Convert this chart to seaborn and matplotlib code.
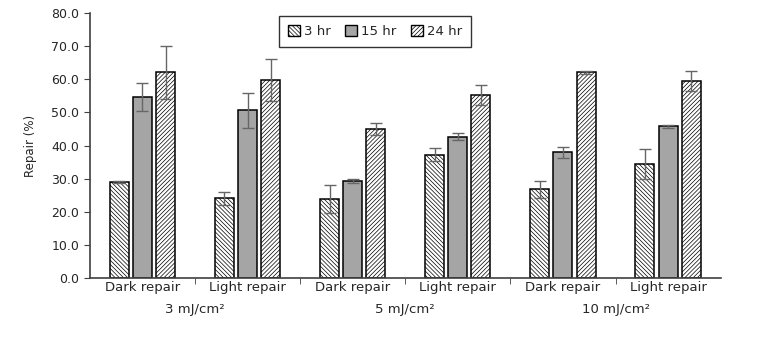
import numpy as np
import pandas as pd
import seaborn as sns
import matplotlib
matplotlib.use("Agg")
from matplotlib import pyplot as plt
from matplotlib.patches import Patch
from matplotlib import transforms

# data
doses = ["3 mJ/cm²", "5 mJ/cm²", "10 mJ/cm²"]
treatments = ["Dark repair", "Light repair"]
times = ["3 hr", "15 hr", "24 hr"]

repair_3hr = [29.0, 24.1, 23.9, 37.2, 26.8, 34.4]
repair_15hr = [54.6, 50.6, 29.3, 42.7, 38.0, 45.8]
repair_24hr = [62.1, 59.8, 45.0, 55.2, 62.1, 59.5]

err_3hr = [0.4, 1.9, 4.3, 2.0, 2.5, 4.6]
err_15hr = [4.2, 5.2, 0.5, 1.1, 1.7, 0.5]
err_24hr = [8.0, 6.3, 1.7, 3.0, 0.4, 2.9]

groups = [d + "|" + t for d in doses for t in treatments]
values = [repair_3hr, repair_15hr, repair_24hr]
errors = [err_3hr, err_15hr, err_24hr]

rows = []
for tm, vals in zip(times, values):
    for g, v in zip(groups, vals):
        rows.append({"group": g, "time": tm, "repair": v})
df = pd.DataFrame(rows)

sns.set_style("white")
plt.rcParams["font.family"] = ["DejaVu Sans"]
plt.rcParams["hatch.linewidth"] = 0.5

fig = plt.figure(figsize=(7.61, 3.37), dpi=100)
ax = fig.add_axes([0.118, 0.175, 0.829, 0.786])

palette = {"3 hr": "white", "15 hr": "#a5a5a5", "24 hr": "white"}
hatches = ["\\" * 8, "", "/" * 8]

sns.barplot(data=df, x="group", y="repair", hue="time", order=groups,
            hue_order=times, palette=palette, width=0.66, gap=0.18,
            errorbar=None, legend=False, edgecolor="black", linewidth=1.1,
            saturation=1, ax=ax)

for cont, h, errs in zip(ax.containers, hatches, errors):
    xs = []
    hs = []
    for p in cont.patches:
        p.set_hatch(h)
        xs.append(p.get_x() + p.get_width() / 2)
        hs.append(p.get_height())
    ax.errorbar(xs, hs, yerr=errs, fmt="none", ecolor="#666666",
                elinewidth=1, capsize=4, capthick=1, zorder=5)

ax.set_ylim(0, 80)
ax.set_xlim(-0.5, len(groups) - 0.5)
ax.set_yticks(np.arange(0, 81, 10))
ax.set_yticklabels([f"{v:.1f}" for v in np.arange(0, 81, 10)], fontsize=9)
ax.set_xticks(range(len(groups)))
ax.set_xticklabels([g.split("|")[1] for g in groups], fontsize=9.5)
ax.set_xticks(np.arange(0.5, len(groups) - 0.5, 1), minor=True)
ax.tick_params(axis="x", which="major", length=0, pad=2)
ax.tick_params(axis="x", which="minor", length=4, direction="out",
               color="#404040", bottom=True)
ax.tick_params(axis="y", length=4, direction="out", color="#404040", left=True)
ax.set_xlabel("")
ax.set_ylabel("Repair (%)", fontsize=8.5, labelpad=10)

for s in ["top", "right"]:
    ax.spines[s].set_visible(False)
for s in ["left", "bottom"]:
    ax.spines[s].set_color("#404040")
    ax.spines[s].set_linewidth(1.2)

trans = transforms.blended_transform_factory(ax.transData, ax.transAxes)
for i, d in enumerate(doses):
    ax.text(2 * i + 0.5, -0.12, d, transform=trans, ha="center", va="center",
            fontsize=9.5)

handles = [Patch(facecolor=palette[t], edgecolor="black", hatch=h, label=t)
           for t, h in zip(times, hatches)]
leg = fig.legend(handles=handles, loc="center", bbox_to_anchor=(0.493, 0.906),
                 ncol=3, fontsize=9.5, frameon=True, fancybox=False,
                 edgecolor="black", handlelength=0.9, handleheight=0.9,
                 handletextpad=0.3, columnspacing=1.1, borderpad=0.7)
leg.get_frame().set_linewidth(1.0)

fig.savefig("out.png", dpi=100)
